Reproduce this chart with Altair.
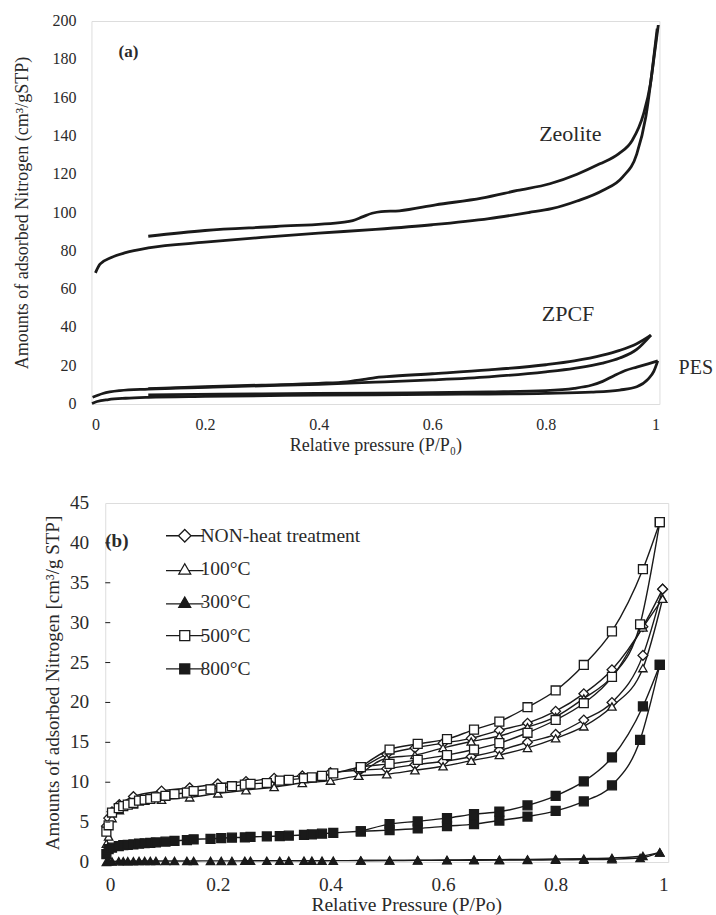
import altair as alt
import pandas as pd

FONT = "Liberation Serif"
INK = "#1a1a1a"
TXT = "#2a2a2a"

# ---------------- panel (a) : isotherm curves ----------------
zeo_ads_x = [0.007, 0.015, 0.035, 0.06, 0.1, 0.2, 0.3, 0.4, 0.5, 0.6, 0.7, 0.77, 0.81, 0.855, 0.9, 0.935, 0.96, 0.976, 0.988, 0.996]
zeo_ads_y = [68.5, 73, 76.5, 79, 81.5, 84.5, 87, 89.2, 91.2, 93.6, 96.8, 100, 102, 106, 111.5, 118.5, 130.5, 150, 176, 196]
zeo_des_x = [0.1, 0.2, 0.325, 0.445, 0.46, 0.477, 0.494, 0.51, 0.542, 0.606, 0.687, 0.75, 0.807, 0.855, 0.895, 0.928, 0.952, 0.972, 0.984, 0.992, 0.998]
zeo_des_y = [87.6, 90.6, 92.7, 95, 95.8, 97.7, 99.6, 100.5, 100.9, 104, 107.5, 111.5, 115, 120, 125.4, 130.6, 137.6, 151.5, 167, 184.6, 198]

zpcf_ads_x = [0.002, 0.02, 0.05, 0.1, 0.2, 0.3, 0.4, 0.5, 0.6, 0.7, 0.8, 0.85, 0.9, 0.93, 0.96, 0.985]
zpcf_ads_y = [3.5, 5.5, 7.0, 7.8, 8.7, 9.5, 10.3, 11.4, 12.6, 14.2, 16.8, 18.6, 21.3, 24, 28.5, 36]
zpcf_des_x = [0.1, 0.2, 0.3, 0.4, 0.45, 0.48, 0.5, 0.52, 0.6, 0.7, 0.8, 0.85, 0.9, 0.93, 0.96, 0.985]
zpcf_des_y = [8.0, 9.0, 9.9, 10.8, 11.6, 12.8, 13.8, 14.3, 15.8, 17.8, 20.5, 22.5, 25.5, 28, 31.5, 36]

pes_ads_x = [0.001, 0.01, 0.03, 0.06, 0.1, 0.2, 0.4, 0.6, 0.8, 0.88, 0.93, 0.96, 0.98, 0.99, 0.997]
pes_ads_y = [0.3, 1.3, 2.3, 3.0, 3.5, 4.0, 4.6, 5.0, 5.6, 6.2, 7.3, 9.0, 13, 17, 22.5]
pes_des_x = [0.1, 0.3, 0.5, 0.7, 0.8, 0.85, 0.88, 0.9, 0.92, 0.94, 0.96, 0.98, 0.997]
pes_des_y = [4.8, 5.3, 5.7, 6.3, 7.0, 8.2, 9.8, 11.8, 14.8, 17.5, 19.3, 21, 22.5]

a_labels = ["Zeolite", "ZPCF", "PES"]
a_label_x = [0.843, 0.839, 1.064]
a_label_y = [141, 47, 18.8]
a_label_size = [22, 22, 20]

a_ticks_x = [0, 0.2, 0.4, 0.6, 0.8, 1]
a_ticks_y = [0, 20, 40, 60, 80, 100, 120, 140, 160, 180, 200]

# ---------------- panel (b) : markers ----------------
fine_x = [0.002, 0.006, 0.012, 0.024, 0.032, 0.04, 0.05, 0.06, 0.07, 0.08,
          0.09, 0.107, 0.123, 0.145, 0.157, 0.187, 0.206, 0.225, 0.248, 0.258,
          0.287, 0.31, 0.326, 0.353, 0.367, 0.385, 0.405, 0.454, 0.505, 0.555,
          0.607, 0.655, 0.7, 0.75, 0.8, 0.85, 0.9, 0.95, 0.985]
fine_des_x = [0.454, 0.505, 0.555, 0.607, 0.655, 0.7, 0.75, 0.8, 0.85, 0.9, 0.955, 0.985]
coarse_x = [0.002, 0.006, 0.012, 0.025, 0.05, 0.1, 0.15, 0.2, 0.25, 0.3,
            0.35, 0.4, 0.45, 0.5, 0.55, 0.6, 0.65, 0.7, 0.75, 0.8,
            0.85, 0.9, 0.955, 0.99]
coarse_des_x = [0.45, 0.5, 0.55, 0.6, 0.65, 0.7, 0.75, 0.8, 0.85, 0.9, 0.955, 0.99]

non_ads = [4.5, 5.5, 6.3, 7.2, 8.2, 8.9, 9.3, 9.8, 10.1, 10.5,
           10.8, 11.2, 11.5, 11.7, 12.2, 12.6, 13.2, 14.0, 15.0, 16.0,
           17.8, 20.0, 25.9, 34.2]
non_des = [11.5, 13.5, 14.3, 14.9, 15.5, 16.5, 17.4, 18.9, 21.1, 24.1, 29.5, 34.2]
c100_ads = [2.3, 3.2, 5.5, 6.5, 7.2, 7.8, 8.1, 8.6, 9.0, 9.4,
            9.9, 10.2, 10.8, 11.0, 11.5, 12.0, 12.7, 13.4, 14.3, 15.5,
            17.0, 19.5, 24.3, 33.0]
c100_des = [10.8, 13.0, 13.4, 14.3, 15.1, 15.8, 16.9, 18.2, 20.5, 23.2, 29.4, 33.0]
c300_ads = [0.0, 0.05, 0.08, 0.1, 0.1, 0.11, 0.11, 0.12, 0.12, 0.12,
            0.12, 0.13, 0.13, 0.13, 0.13, 0.14, 0.14, 0.14, 0.15, 0.15,
            0.15, 0.15, 0.16, 0.16, 0.16, 0.16, 0.17, 0.18, 0.19, 0.2,
            0.21, 0.22, 0.23, 0.25, 0.27, 0.3, 0.35, 0.5, 1.2]
c300_des = [0.18, 0.2, 0.22, 0.25, 0.28, 0.3, 0.33, 0.37, 0.42, 0.5, 0.75, 1.2]
c500_ads = [3.8, 4.6, 6.2, 6.75, 7.0, 7.2, 7.4, 7.7, 7.8, 7.9,
            8.1, 8.3, 8.5, 8.7, 8.9, 9.1, 9.3, 9.5, 9.7, 9.8,
            9.9, 10.2, 10.3, 10.5, 10.6, 10.8, 11.1, 11.9, 12.3, 12.8,
            13.4, 14.1, 14.9, 16.2, 17.8, 19.9, 23.2, 29.8, 42.6]
c500_des = [11.9, 14.1, 14.8, 15.4, 16.6, 17.6, 19.4, 21.5, 24.7, 28.9, 36.7, 42.6]
c800_ads = [1.0, 1.6, 1.8, 2.0, 2.1, 2.15, 2.2, 2.3, 2.35, 2.4,
            2.45, 2.55, 2.65, 2.75, 2.85, 2.9, 3.0, 3.05, 3.1, 3.15,
            3.2, 3.25, 3.3, 3.4, 3.45, 3.55, 3.65, 3.85, 4.0, 4.2,
            4.5, 4.75, 5.2, 5.7, 6.4, 7.6, 9.6, 15.3, 24.7]
c800_des = [3.85, 4.75, 5.1, 5.5, 6.0, 6.3, 7.1, 8.3, 10.1, 13.1, 19.5, 24.7]

series_names = ["NON-heat treatment", "100°C", "300°C", "500°C", "800°C"]
series_shapes = ["diamond", "triangle-up", "triangle-up", "square", "square"]
series_fills = ["white", "white", INK, "white", INK]
series_sizes = [95, 70, 70, 80, 80]

b_ticks_x = [0, 0.2, 0.4, 0.6, 0.8, 1]
b_ticks_y = [0, 5, 10, 15, 20, 25, 30, 35, 40, 45]

# legend glyphs: marker with a short line on each side
legend_paths = [
    "M-3,0H-1M1,0H3M-1,0L0,-1L1,0L0,1Z",
    "M-3,0.25H-0.62M0.62,0.25H3M0,-0.85L0.95,0.8L-0.95,0.8Z",
    "M-3,0.25H-0.62M0.62,0.25H3M0,-0.85L0.95,0.8L-0.95,0.8Z",
    "M-3,0H-0.8M0.8,0H3M-0.8,-0.8H0.8V0.8H-0.8Z",
    "M-3,0H-0.8M0.8,0H3M-0.8,-0.8H0.8V0.8H-0.8Z",
]


def frame(xs, ys, series, branch):
    return pd.DataFrame({"x": xs, "y": ys, "series": series, "branch": branch})


def spacer(x, y, y2):
    return alt.Chart(pd.DataFrame({"z": [0]})).mark_rule(strokeOpacity=0, strokeWidth=0.1).encode(
        x=alt.value(x), y=alt.value(y), y2=alt.value(y2))


def ylabels(values, xpix, size):
    return alt.Chart(pd.DataFrame({"v": values})).mark_text(
        align="right", baseline="middle", font=FONT, fontSize=size, color=TXT
    ).encode(x=alt.value(xpix), y="v:Q", text=alt.Text("v:Q"))


# ---------------- build panel (a) ----------------
a_df = pd.concat([
    frame(zeo_ads_x, zeo_ads_y, "Zeolite", "ads"),
    frame(zeo_des_x, zeo_des_y, "Zeolite", "des"),
    frame(zpcf_ads_x, zpcf_ads_y, "ZPCF", "ads"),
    frame(zpcf_des_x, zpcf_des_y, "ZPCF", "des"),
    frame(pes_ads_x, pes_ads_y, "PES", "ads"),
    frame(pes_des_x, pes_des_y, "PES", "des"),
], ignore_index=True)
a_df["key"] = a_df["series"] + "-" + a_df["branch"]

ax_a = alt.X("x:Q", scale=alt.Scale(domain=[0, 1], nice=False),
             axis=alt.Axis(values=a_ticks_x, format="~g", title="Relative pressure (P/P₀)",
                           ticks=False, domain=False, grid=False, labelPadding=12, labelOverlap=False,
                           labelFont=FONT, labelFontSize=16, labelColor=TXT,
                           titleFont=FONT, titleFontSize=18, titleFontWeight="normal",
                           titleColor=TXT, titlePadding=4))
ay_a = alt.Y("y:Q", scale=alt.Scale(domain=[0, 200], nice=False),
             axis=alt.Axis(values=a_ticks_y, title="Amounts of adsorbed Nitrogen (cm³/gSTP)",
                           ticks=False, domain=False, grid=False, labels=False,
                           titleFont=FONT, titleFontSize=18, titleFontWeight="normal",
                           titleColor=TXT, titleX=-69, titleBaseline="middle"))

lines_a = alt.Chart(a_df).mark_line(color=INK, strokeWidth=2.8, interpolate="monotone").encode(
    x=ax_a, y=ay_a, detail="key:N")

lab_a_df = pd.DataFrame({"label": a_labels, "x": a_label_x, "y": a_label_y, "s": a_label_size})
labels_a = alt.Chart(lab_a_df).mark_text(font=FONT, color=TXT).encode(
    x="x:Q", y="y:Q", text="label:N", size=alt.Size("s:Q", scale=None, legend=None))
tag_a = alt.Chart(pd.DataFrame({"t": ["(a)"], "x": [0.065], "y": [184]})).mark_text(
    font=FONT, fontSize=17, fontWeight="bold", color=TXT).encode(x="x:Q", y="y:Q", text="t:N")

panel_a = alt.layer(
    lines_a, ylabels(a_ticks_y, -15, 16), labels_a, tag_a,
    spacer(-90, -20, 443), spacer(620, 0, 1),
).properties(width=568, height=383)

# ---------------- build panel (b) ----------------
b_parts = []
ads_sets = [(coarse_x, non_ads, coarse_des_x, non_des),
            (coarse_x, c100_ads, coarse_des_x, c100_des),
            (fine_x, c300_ads, fine_des_x, c300_des),
            (fine_x, c500_ads, fine_des_x, c500_des),
            (fine_x, c800_ads, fine_des_x, c800_des)]
for name, (xa, ya, xd, yd) in zip(series_names, ads_sets):
    b_parts.append(frame(xa, ya, name, "ads"))
    b_parts.append(frame(xd, yd, name, "des"))
b_df = pd.concat(b_parts, ignore_index=True)
b_df["key"] = b_df["series"] + "-" + b_df["branch"]

ax_b = alt.X("x:Q", scale=alt.Scale(domain=[0, 1], nice=False),
             axis=alt.Axis(values=b_ticks_x, format="~g", title="Relative Pressure (P/Po)",
                           ticks=False, domain=False, grid=False, labelPadding=13, labelOverlap=False,
                           labelFont=FONT, labelFontSize=19.3, labelColor=TXT,
                           titleFont=FONT, titleFontSize=19.5, titleFontWeight="normal",
                           titleColor=TXT, titlePadding=1, titleX=301))
ay_b = alt.Y("y:Q", scale=alt.Scale(domain=[0, 45], nice=False),
             axis=alt.Axis(values=b_ticks_y, title="Amounts of adsorbed Nitrogen  [cm³/g STP]",
                           ticks=False, domain=False, grid=False, labels=False,
                           titleFont=FONT, titleFontSize=19, titleFontWeight="normal",
                           titleColor=TXT, titleX=-53, titleBaseline="middle"))

lines_b = alt.Chart(b_df).mark_line(color=INK, strokeWidth=1.4, interpolate="monotone").encode(
    x=ax_b, y=ay_b, detail="key:N")

point_layers = []
for name, shp, fil, sz in zip(series_names, series_shapes, series_fills, series_sizes):
    point_layers.append(
        alt.Chart(b_df[b_df["series"] == name]).mark_point(
            shape=shp, filled=True, fill=fil, stroke=INK, strokeWidth=1.3, size=sz, opacity=1
        ).encode(x="x:Q", y="y:Q")
    )

ytick_df = pd.DataFrame({"v": b_ticks_y[1:-1]})
yticks_b = alt.Chart(ytick_df).mark_rule(color=INK, strokeWidth=1).encode(
    y="v:Q", x=alt.value(0), x2=alt.value(5))

legend_df = pd.DataFrame({"series": series_names})
leg = alt.Legend(title=None, orient="none", legendX=84, legendY=505,
                 labelFont=FONT, labelFontSize=19.5, labelColor=TXT,
                 symbolSize=156, symbolStrokeWidth=1.3, symbolOpacity=1,
                 labelOffset=6, rowPadding=12.3, padding=0, labelLimit=400,
                 direction="vertical")
legend_layer = alt.Chart(legend_df).mark_point(
    filled=False, color=INK, strokeWidth=1.3, clip=True
).encode(
    x=alt.value(-300), y=alt.value(-300),
    shape=alt.Shape("series:N", scale=alt.Scale(domain=series_names, range=legend_paths), legend=leg),
    fill=alt.Fill("series:N", scale=alt.Scale(domain=series_names, range=series_fills), legend=leg),
)

tag_b = alt.Chart(pd.DataFrame({"t": ["(b)"], "x": [0.0], "y": [40.2]})).mark_text(
    font=FONT, fontSize=19, fontWeight="bold", color=TXT, align="left").encode(
    x="x:Q", y="y:Q", text="t:N")

panel_b = alt.layer(
    lines_b, *point_layers, yticks_b, ylabels(b_ticks_y, -16, 19.3), legend_layer, tag_b,
    spacer(0, -20, 0), spacer(594, 0, 1),
).properties(width=563, height=359)

chart = alt.vconcat(panel_a, panel_b, spacing=17, center=True).properties(
    padding={"left": 0, "top": 0, "right": 0, "bottom": 0},
    background="white",
).configure_view(stroke="#222", strokeWidth=1.6).configure(font=FONT).configure_axis(
    labelFont=FONT, titleFont=FONT).configure_text(font=FONT).configure_legend(labelFont=FONT)

chart.save("out.html", embed_options={"renderer": "svg", "actions": False})
